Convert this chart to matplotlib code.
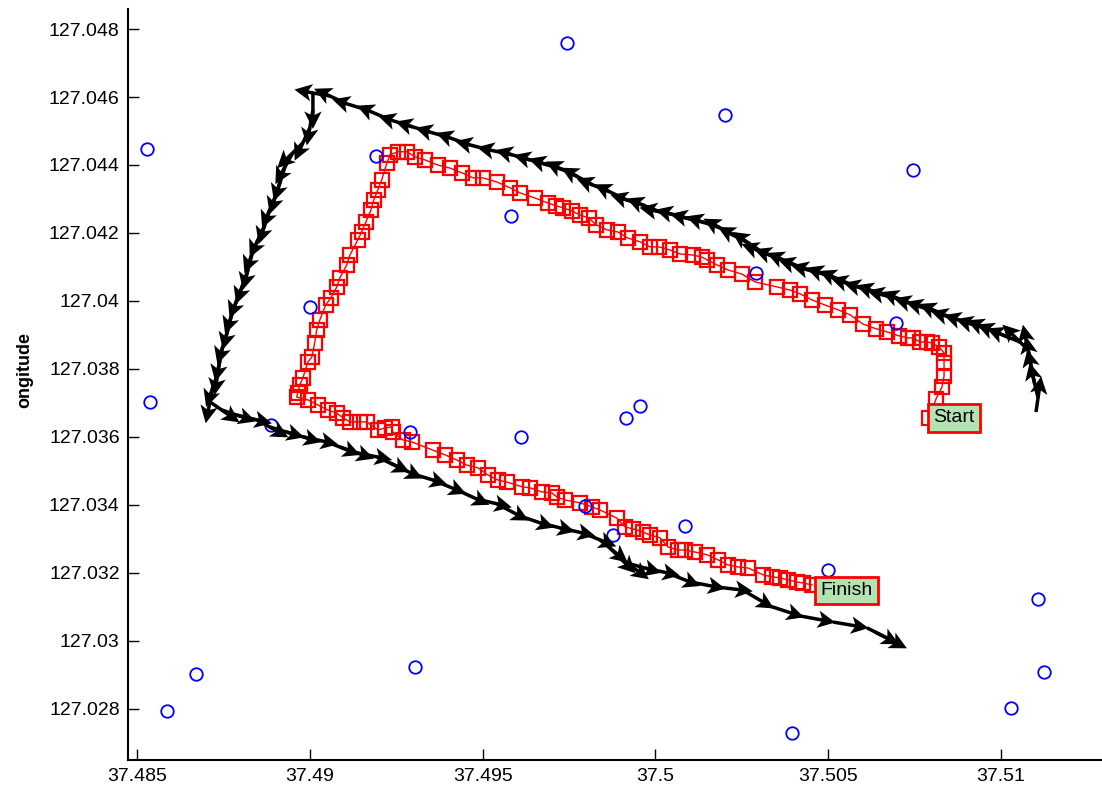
import numpy as np
import matplotlib
matplotlib.use('Agg')
import matplotlib.pyplot as plt
from matplotlib.ticker import FuncFormatter


# fixed reference nodes (blue circles)
anchor_lat = [37.48528, 37.48537, 37.48586, 37.48670, 37.48887, 37.49000, 37.49191, 37.49289, 37.49304,
              37.49582, 37.49611, 37.49744, 37.49796, 37.49877, 37.49915, 37.49955, 37.50085, 37.50201,
              37.50291, 37.50395, 37.50499, 37.50696, 37.50745, 37.51029, 37.51107, 37.51124]
anchor_lon = [127.04447, 127.03703, 127.02793, 127.02902, 127.03635, 127.03982, 127.04427, 127.03614, 127.02923,
              127.04250, 127.03600, 127.04759, 127.03397, 127.03311, 127.03656, 127.03691, 127.03338, 127.04547,
              127.04082, 127.02729, 127.03208, 127.03935, 127.04386, 127.02802, 127.03123, 127.02908]

# estimated positions, start -> finish (red squares)
track_lat = [
    37.50791, 37.50812, 37.50829, 37.50835, 37.50835, 37.50835, 37.50820, 37.50800, 37.50786, 37.50765,
    37.50745, 37.50731, 37.50705, 37.50670, 37.50638, 37.50600, 37.50563, 37.50528, 37.50490, 37.50453,
    37.50418, 37.50389, 37.50352, 37.50288, 37.50250, 37.50210, 37.50178, 37.50149, 37.50134, 37.50108,
    37.50071, 37.50042, 37.50010, 37.49984, 37.49955, 37.49920, 37.49891, 37.49860, 37.49828, 37.49807,
    37.49781, 37.49758, 37.49732, 37.49712, 37.49689, 37.49651, 37.49608, 37.49579, 37.49541, 37.49501,
    37.49472, 37.49440, 37.49405, 37.49370, 37.49333, 37.49304, 37.49281, 37.49255, 37.49232, 37.49223,
    37.49208, 37.49197, 37.49185, 37.49177, 37.49162, 37.49150, 37.49139, 37.49116, 37.49107, 37.49087,
    37.49078, 37.49061, 37.49046, 37.49029, 37.49020, 37.49014, 37.49006, 37.48994, 37.48980, 37.48971,
    37.48965, 37.48962, 37.48994, 37.49023, 37.49052, 37.49078, 37.49096, 37.49116, 37.49145, 37.49165,
    37.49197, 37.49217, 37.49237, 37.49240, 37.49269, 37.49295, 37.49356, 37.49391, 37.49425, 37.49454,
    37.49486, 37.49515, 37.49544, 37.49570, 37.49614, 37.49637, 37.49671, 37.49700, 37.49715, 37.49738,
    37.49781, 37.49816, 37.49839, 37.49888, 37.49912, 37.49935, 37.49964, 37.49984, 37.50013, 37.50036,
    37.50065, 37.50085, 37.50114, 37.50149, 37.50181, 37.50210, 37.50239, 37.50268, 37.50311, 37.50337,
    37.50360, 37.50383, 37.50409, 37.50427, 37.50453]
track_lon = [
    127.03656, 127.03712, 127.03747, 127.03779, 127.03818, 127.03847, 127.03865, 127.03876, 127.03879, 127.03879,
    127.03891, 127.03891, 127.03897, 127.03909, 127.03918, 127.03932, 127.03959, 127.03974, 127.03988, 127.04003,
    127.04021, 127.04032, 127.04041, 127.04056, 127.04079, 127.04091, 127.04106, 127.04121, 127.04129, 127.04135,
    127.04138, 127.04150, 127.04159, 127.04159, 127.04174, 127.04185, 127.04203, 127.04209, 127.04224, 127.04244,
    127.04253, 127.04265, 127.04274, 127.04280, 127.04288, 127.04303, 127.04318, 127.04333, 127.04350, 127.04362,
    127.04362, 127.04377, 127.04391, 127.04400, 127.04415, 127.04424, 127.04439, 127.04439, 127.04430, 127.04406,
    127.04356, 127.04327, 127.04297, 127.04268, 127.04232, 127.04203, 127.04180, 127.04135, 127.04106, 127.04068,
    127.04041, 127.04009, 127.03988, 127.03944, 127.03915, 127.03876, 127.03835, 127.03820, 127.03773, 127.03753,
    127.03729, 127.03717, 127.03709, 127.03694, 127.03679, 127.03670, 127.03656, 127.03644, 127.03644, 127.03644,
    127.03620, 127.03626, 127.03629, 127.03614, 127.03591, 127.03585, 127.03561, 127.03547, 127.03532, 127.03517,
    127.03509, 127.03488, 127.03473, 127.03467, 127.03453, 127.03450, 127.03438, 127.03435, 127.03423, 127.03414,
    127.03406, 127.03394, 127.03385, 127.03361, 127.03335, 127.03329, 127.03320, 127.03311, 127.03303, 127.03276,
    127.03267, 127.03267, 127.03261, 127.03253, 127.03238, 127.03223, 127.03217, 127.03214, 127.03194, 127.03188,
    127.03185, 127.03179, 127.03173, 127.03170, 127.03164]

# measured heading track (black arrows)
head_lat = [
    37.51101, 37.51107, 37.51098, 37.51090, 37.51084, 37.51078, 37.51055, 37.51026, 37.50997, 37.50968,
    37.50933, 37.50896, 37.50858, 37.50823, 37.50789, 37.50751, 37.50713, 37.50679, 37.50644, 37.50606,
    37.50569, 37.50534, 37.50493, 37.50453, 37.50418, 37.50383, 37.50346, 37.50308, 37.50273, 37.50230,
    37.50187, 37.50143, 37.50100, 37.50056, 37.50013, 37.49969, 37.49917, 37.49868, 37.49819, 37.49776,
    37.49732, 37.49689, 37.49637, 37.49585, 37.49521, 37.49463, 37.49405, 37.49347, 37.49298, 37.49232,
    37.49165, 37.49107, 37.49058, 37.49009,
    37.49009, 37.49000, 37.48980, 37.48951, 37.48928, 37.48916, 37.48902, 37.48884, 37.48870, 37.48850,
    37.48832, 37.48821, 37.48806, 37.48789, 37.48774, 37.48763, 37.48748, 37.48740, 37.48734, 37.48719, 37.48711,
    37.48745, 37.48789, 37.48847, 37.48884, 37.48933, 37.48980, 37.49049, 37.49087, 37.49136, 37.49194,
    37.49232, 37.49298, 37.49356, 37.49425, 37.49483, 37.49541, 37.49608, 37.49666, 37.49724, 37.49790,
    37.49839, 37.49868, 37.49897, 37.49917, 37.49969, 37.50033, 37.50100, 37.50178, 37.50253, 37.50331,
    37.50418, 37.50514, 37.50612, 37.50635]
head_lon = [
    127.03673, 127.03715, 127.03753, 127.03791, 127.03826, 127.03856, 127.03879, 127.03891, 127.03903, 127.03915,
    127.03926, 127.03938, 127.03950, 127.03965, 127.03976, 127.03988, 127.04003, 127.04012, 127.04024, 127.04035,
    127.04047, 127.04062, 127.04077, 127.04088, 127.04100, 127.04115, 127.04129, 127.04144, 127.04168, 127.04191,
    127.04215, 127.04230, 127.04241, 127.04253, 127.04262, 127.04280, 127.04297, 127.04321, 127.04341, 127.04365,
    127.04386, 127.04400, 127.04415, 127.04430, 127.04444, 127.04459, 127.04480, 127.04497, 127.04512, 127.04533,
    127.04562, 127.04580, 127.04603, 127.04612,
    127.04562, 127.04509, 127.04465, 127.04436, 127.04394, 127.04356, 127.04312, 127.04268, 127.04224, 127.04180,
    127.04135, 127.04091, 127.04047, 127.04003, 127.03959, 127.03915, 127.03865, 127.03826, 127.03788, 127.03744, 127.03703,
    127.03679, 127.03664, 127.03650, 127.03629, 127.03614, 127.03600, 127.03585, 127.03570, 127.03553, 127.03541,
    127.03523, 127.03491, 127.03473, 127.03444, 127.03417, 127.03403, 127.03367, 127.03347, 127.03332, 127.03317,
    127.03297, 127.03273, 127.03244, 127.03229, 127.03214, 127.03200, 127.03173, 127.03158, 127.03149, 127.03102,
    127.03073, 127.03055, 127.03038, 127.03026]

x_ticks = [37.485, 37.49, 37.495, 37.5, 37.505, 37.51]
y_ticks = [127.028, 127.03, 127.032, 127.034, 127.036, 127.038, 127.04, 127.042, 127.044, 127.046, 127.048]

plt.rcParams['font.family'] = ['Liberation Sans', 'DejaVu Sans']

fig = plt.figure(figsize=(11.02, 7.89), dpi=100)
ax = fig.add_axes([128 / 1102, 29 / 789, 974 / 1102, 751 / 789])

ax.plot(track_lat, track_lon, 'rs-', ms=10.5, mfc='none', mew=1.6, lw=1.0, zorder=2)
ax.plot(anchor_lat, anchor_lon, 'o', color='blue', ms=9, mfc='none', mew=1.3, ls='none', zorder=3)

ax.set_xlim(37.48474, 37.51292)
ax.set_ylim(127.02649, 127.04859)

# arrow heading from consecutive fixes, fixed screen length
pts = ax.transData.transform(np.column_stack([head_lat, head_lon]))
d = np.diff(pts, axis=0)
d = np.vstack([d, d[-1]])
d = d / np.hypot(d[:, 0], d[:, 1])[:, None] * 36
ax.quiver(head_lat, head_lon, d[:, 0], d[:, 1], angles='uv', scale_units='dots', scale=1,
          units='dots', width=3.5, headwidth=5, headlength=5, headaxislength=4,
          color='k', zorder=4)

box = dict(boxstyle='square,pad=0.28', fc='#b3e3b3', ec='red', lw=2)
ax.annotate('Start', (track_lat[0], track_lon[0]), xytext=(3, 0), textcoords='offset points',
            ha='left', va='center', fontsize=14, bbox=box, zorder=5)
ax.annotate('Finish', (track_lat[-1], track_lon[-1]), xytext=(6, -4), textcoords='offset points',
            ha='left', va='center', fontsize=14, bbox=box, zorder=5)

ax.set_xticks(x_ticks)
ax.set_yticks(y_ticks)
fmt = FuncFormatter(lambda v, p: '%g' % round(v, 3))
ax.xaxis.set_major_formatter(fmt)
ax.yaxis.set_major_formatter(fmt)
ax.tick_params(direction='in', length=8, width=1, labelsize=14, pad=6)
for s in ['top', 'right']:
    ax.spines[s].set_visible(False)
for s in ['left', 'bottom']:
    ax.spines[s].set_linewidth(1.5)

fig.text(25 / 1102, 1 - 370 / 789, 'ongitude', rotation=90, ha='center', va='center',
         fontsize=13, fontweight='bold')

fig.savefig('out.png', dpi=100)
